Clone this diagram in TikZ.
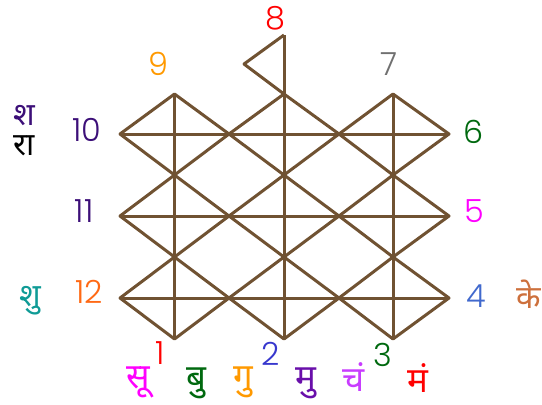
\documentclass[tikz,border=0pt]{standalone}
\usepackage{fontspec}
\setmainfont{Poppins Light}
\newfontfamily\hindifont[Script=Devanagari]{Noto Sans}
\usepackage{tikz}
\definecolor{linebrown}{RGB}{112, 82, 50}
\definecolor{darkviolet}{RGB}{60, 15, 120}
\definecolor{numorange}{RGB}{255, 153, 0}
\definecolor{numred}{RGB}{255, 0, 0}
\definecolor{numgray}{RGB}{112, 112, 112}
\definecolor{numgreen}{RGB}{0, 105, 15}
\definecolor{nummagenta}{RGB}{255, 0, 255}
\definecolor{numblue}{RGB}{65, 105, 205}
\definecolor{numindigo}{RGB}{55, 55, 205}
\definecolor{numsun}{RGB}{255, 105, 20}
\definecolor{tealplanet}{RGB}{15, 155, 150}
\definecolor{ketubrown}{RGB}{205, 112, 60}
\definecolor{moonviolet}{RGB}{200, 60, 255}
\definecolor{satpurple}{RGB}{105, 15, 170}
\begin{document}
\begin{tikzpicture}[
  x=1bp, y=-1bp,
  chart/.style={draw=linebrown, line width=3bp, line join=round},
  num/.style={inner sep=0pt, font=\fontsize{32}{32}\selectfont, text=#1},
  planet/.style={inner sep=0pt, font=\hindifont\fontsize{35}{35}\selectfont, text=#1},
  sideplanet/.style={inner sep=0pt, font=\hindifont\fontsize{32}{32}\selectfont, text=#1, text height=15bp, text depth=0bp}
]
\useasboundingbox (0,0) rectangle (542,404);

% Grid points
\foreach \n/\y in {0/94, 1/134, 2/175, 3/216, 4/257, 5/298, 6/339}
  \foreach \m/\x in {a/120, b/174.5, c/229, d/284, e/339, f/393, g/449}
    \coordinate (\m\n) at (\x,\y);
\coordinate (flagtop) at (284,35);
\coordinate (flagtip) at (244,64);

% Diamonds, one closed zigzag per row
\draw[chart] (a1) -- (b0) -- (c1) -- (d0) -- (e1) -- (f0) -- (g1) -- (f2) -- (e1) -- (d2) -- (c1) -- (b2) -- cycle;
\draw[chart] (a3) -- (b2) -- (c3) -- (d2) -- (e3) -- (f2) -- (g3) -- (f4) -- (e3) -- (d4) -- (c3) -- (b4) -- cycle;
\draw[chart] (a5) -- (b4) -- (c5) -- (d4) -- (e5) -- (f4) -- (g5) -- (f6) -- (e5) -- (d6) -- (c5) -- (b6) -- cycle;

% Horizontal lines
\draw[chart] (a1) -- (g1);
\draw[chart] (a3) -- (g3);
\draw[chart] (a5) -- (g5);

% Vertical lines
\draw[chart] (b0) -- (b6);
\draw[chart] (flagtop) -- (d6);
\draw[chart] (f0) -- (f6);

% Flag on top
\draw[chart] (flagtop) -- (flagtip) -- (d0);

% House numbers
\node[num=numred] (n8) at (275,18) {8};
\node[num=numorange] (n9) at (158,64) {9};
\node[num=numgray] (n7) at (389,64) {7};
\node[num=darkviolet] (n10) at (87,130) {10};
\node[num=darkviolet] (n11) at (84,211) {11};
\node[num=numsun] (n12) at (89,292) {12};
\node[num=numgreen] (n6) at (474,132) {6};
\node[num=nummagenta] (n5) at (474,211) {5};
\node[num=numblue] (n4) at (476,296) {4};
\node[num=numred] (n1) at (160,353) {1};
\node[num=numindigo] (n2) at (271,354) {2};
\node[num=numgreen] (n3) at (383,355) {3};

% Planets
\node[sideplanet=darkviolet] (sha) at (24,118) {श};
\node[sideplanet=black] (ra) at (24,148) {रा};
\node[sideplanet=tealplanet] (shu) at (30,299) {शु};
\node[sideplanet=ketubrown] (ke) at (529,301) {के};
\node[planet=nummagenta] (su) at (138,382) {सू};
\node[planet=numgreen] (bu) at (196,383) {बु};
\node[planet=numorange] (gu) at (243,382) {गु};
\node[planet=satpurple] (mu) at (306,383) {मु};
\node[planet=moonviolet] (cha) at (354,377) {चं};
\node[planet=numred] (ma) at (418,378) {मं};
\end{tikzpicture}
\end{document}
